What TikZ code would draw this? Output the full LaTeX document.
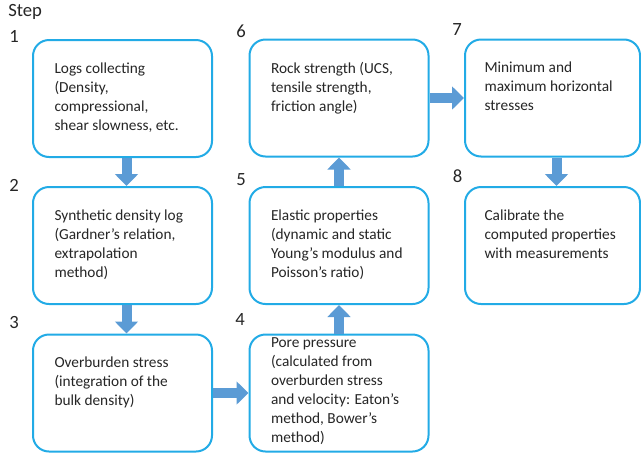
\documentclass[tikz,border=0pt]{standalone}
\usepackage{fontspec}
\setmainfont{Carlito}
\usetikzlibrary{arrows.meta}

\definecolor{boxblue}{HTML}{22ABE6}
\definecolor{flowblue}{HTML}{5B9BD5}
\definecolor{textgray}{HTML}{262626}

\newcommand{\steptext}[2][54pt]{\parbox[c][#1][t]{102pt}{\raggedright #2}}

\tikzset{
    stepbox/.style={draw=boxblue, line width=1.5pt, rounded corners=12pt, fill=white,
        minimum width=134.25pt, minimum height=87.75pt, inner sep=0pt,
        text=textgray, font=\fontsize{11.5pt}{14.25pt}\selectfont},
    stepnum/.style={anchor=base, text=textgray, inner sep=0pt,
        font=\fontsize{14pt}{16pt}\selectfont},
    flow/.style={draw=flowblue, line width=7.5pt, -{Triangle[width=17pt,length=9pt]}}
}

\begin{document}
\begin{tikzpicture}[x=0.75pt,y=-0.75pt]
        \useasboundingbox (0,0) rectangle (641,454);

        \coordinate (P1) at (122.5,98.5);
        \coordinate (P2) at (122.5,245.5);
        \coordinate (P3) at (122.5,393);
        \coordinate (P4) at (339,393);
        \coordinate (P5) at (339,245.5);
        \coordinate (P6) at (339,98);
        \coordinate (P7) at (552.5,98);
        \coordinate (P8) at (552.5,245.5);

        \node[stepbox] (b1) at (P1) {\steptext{Logs collecting\\(Density,\\compressional,\\shear slowness, etc.}};
        \node[stepbox] (b2) at (P2) {\steptext{Synthetic density log\\(Gardner’s relation,\\extrapolation\\method)}};
        \node[stepbox] (b3) at (P3) {\steptext{Overburden stress\\(integration of the\\bulk density)}};
        \node[stepbox] (b4) at (P4) {\steptext[83pt]{Pore pressure\\(calculated from\\overburden stress\\and velocity: Eaton’s\\method, Bower’s\\method)}};
        \node[stepbox] (b5) at (P5) {\steptext{Elastic properties\\(dynamic and static\\Young’s modulus and\\Poisson’s ratio)}};
        \node[stepbox] (b6) at (P6) {\steptext{Rock strength (UCS,\\tensile strength,\\friction angle)}};
        \node[stepbox, minimum width=131.25pt] (b7) at (P7) {\steptext{Minimum and\\maximum horizontal\\stresses}};
        \node[stepbox, minimum width=131.25pt] (b8) at (P8) {\steptext{Calibrate the\\computed properties\\with measurements}};

        \node[stepnum, anchor=base west] (step) at (8,16) {Step};
        \node[stepnum] (n1) at (14,42) {1};
        \node[stepnum] (n2) at (14,191) {2};
        \node[stepnum] (n3) at (14,328) {3};
        \node[stepnum] (n4) at (240,325) {4};
        \node[stepnum] (n5) at (241,185) {5};
        \node[stepnum] (n6) at (241,37) {6};
        \node[stepnum] (n7) at (457,35) {7};
        \node[stepnum] (n8) at (457.5,182) {8};

        \draw[flow] ([xshift=3pt]b1.south) -- ([xshift=3pt]b2.north);
        \draw[flow] ([xshift=3pt]b2.south) -- ([xshift=3pt]b3.north);
        \draw[flow] (b3.east) -- (b4.west);
        \draw[flow] (b4.north) -- (b5.south);
        \draw[flow] (b5.north) -- (b6.south);
        \draw[flow] (b6.east) -- (b7.west);
        \draw[flow] ([xshift=3pt]b7.south) -- ([xshift=3pt]b8.north);

    \end{tikzpicture}
\end{document}
